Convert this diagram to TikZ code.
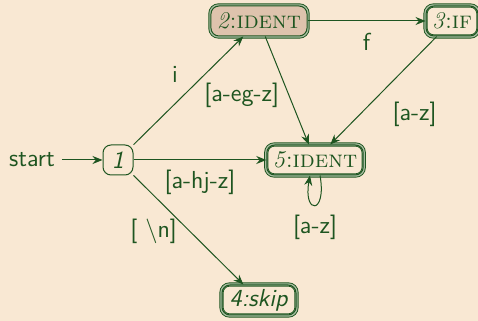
\documentclass[tikz,border=0pt]{standalone}
\usepackage{fontspec}
\usetikzlibrary{arrows.meta, positioning}
\definecolor{paper}{HTML}{F9E8D3}
\definecolor{pine}{HTML}{1E5520}
\definecolor{sage}{HTML}{A9BEA2}
\definecolor{clay}{HTML}{DEC3AD}

\begin{document}
\begin{tikzpicture}[x=1pt, y=1pt, font=\sffamily\fontsize{12.3}{14}\selectfont]
    \tikzset{
      st/.style={rectangle, rounded corners=4pt, draw=pine, line width=0.5pt,
                 text=pine, minimum height=15pt, inner xsep=3pt, inner ysep=1pt},
      acc/.style={st, append after command={\pgfextra{
          \draw[pine, line width=2.1pt, rounded corners=4pt]
            (\tikzlastnode.south west) rectangle (\tikzlastnode.north east);
          \draw[sage, line width=1.2pt, rounded corners=4pt]
            (\tikzlastnode.south west) rectangle (\tikzlastnode.north east);}}},
      sc/.style={font=\rmfamily\fontsize{12}{14}\selectfont},
      e/.style={-{Stealth[length=5pt, width=4pt]}, draw=pine, line width=0.5pt},
      lbl/.style={text=pine, inner sep=2pt}
    }
    \fill[paper] (0,0) rectangle (239,160.5);
    \useasboundingbox (0,0) rectangle (239,160.5);
    \node[text=pine] (start) at (16,80.5) {start};
    \node[st, minimum width=15pt, inner xsep=1pt] (one) at (59,80.5) {\textit{1}};
    \node[acc, sc, fill=clay, minimum width=48pt] (two) at (129.5,150) {\textit{2}:\textsc{ident}};
    \node[acc, sc, minimum width=24pt] (three) at (226,150) {\textit{3}:\textsc{if}};
    \node[acc, sc] (five) at (157.5,80.5) {\textit{5}:\textsc{ident}};
    \node[acc, minimum width=37pt] (four) at (129.5,10.5) {\textit{4:skip}};
    \draw[e] (start) -- (one);
    \draw[e] (one) -- node[lbl, auto, pos=0.5, xshift=-3pt, yshift=2pt] {i} (two);
    \draw[e] (two) -- node[lbl, auto, swap, yshift=-4pt] {f} (three);
    \draw[e] (two) -- node[lbl, auto, swap, pos=0.42, yshift=1.5pt] {[a-eg-z]} (five);
    \draw[e] (three) -- node[lbl, auto, pos=0.55, xshift=5pt, yshift=-1pt] {[a-z]} (five);
    \draw[e] (one) -- node[lbl, auto, swap, pos=0.5, yshift=-3pt] {[a-hj-z]} (five);
    \draw[e] (five.-72) .. controls +(-80:20pt) and +(-100:20pt) .. node[lbl, below, yshift=-3pt] {[a-z]} (five.-108);
    \draw[e] (one) -- node[lbl, auto, swap, pos=0.4, xshift=2pt, yshift=2pt] {[ \textbackslash n]} (four);
  \end{tikzpicture}
\end{document}
